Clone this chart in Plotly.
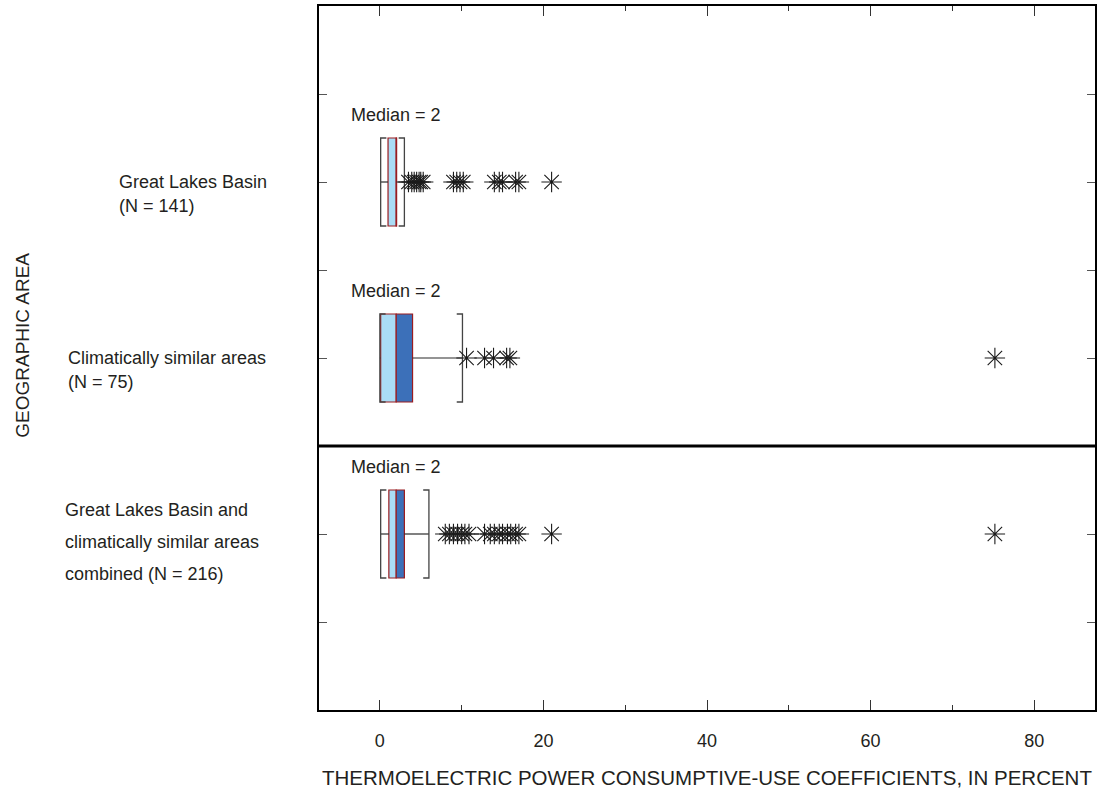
import plotly.graph_objects as go

# ---------------- data ----------------
categories = ["Great Lakes Basin", "Climatically similar areas", "Combined"]
cat_pos = [1, 2, 3]
label_lines = [
    ["Great Lakes Basin", "(N = 141)"],
    ["Climatically similar areas", "(N = 75)"],
    ["Great Lakes Basin and", "climatically similar areas", "combined (N = 216)"],
]
lower_whisker = [0.1, 0.0, 0.1]
q1 = [1.0, 0.1, 1.1]
median = [2.0, 2.0, 2.0]
q3 = [2.05, 4.0, 3.0]
upper_whisker = [3.0, 10.1, 6.0]
median_labels = ["Median = 2", "Median = 2", "Median = 2"]
outliers = [
    [3.5, 3.9, 4.2, 4.5, 4.8, 5.0, 5.3, 9.0, 9.4, 9.8, 10.2,
     14.0, 14.6, 15.0, 16.6, 17.0, 21.0],
    [10.6, 12.8, 13.9, 15.5, 15.9, 75.2],
    [8.0, 8.5, 9.0, 9.5, 10.0, 10.4, 10.9, 12.8, 13.5, 14.0, 14.6,
     15.0, 15.6, 16.0, 16.6, 17.0, 21.0, 75.2],
]
x_ticks = [0, 20, 40, 60, 80]
x_title = "THERMOELECTRIC POWER CONSUMPTIVE-USE COEFFICIENTS, IN PERCENT"
y_title = "GEOGRAPHIC AREA"

# ---------------- style ----------------
FONT = "Liberation Sans, Arial, sans-serif"
TXT = "#231f20"
LIGHT = "#aadcf5"
DARK = "#3c70b9"
RED = "#9a1c20"
HALF = 0.25      # half box height (category units)
SERIF = 0.7      # bracket serif length (x units)

fig = go.Figure()

# boxes: lower half (q1 -> median) and upper half (median -> q3)
fig.add_trace(go.Bar(
    orientation="h", y=cat_pos,
    x=[m - a for m, a in zip(median, q1)], base=q1, width=2 * HALF,
    marker=dict(color=LIGHT, line=dict(color=RED, width=1.2)),
    hoverinfo="skip", showlegend=False))
fig.add_trace(go.Bar(
    orientation="h", y=cat_pos,
    x=[b - m for m, b in zip(median, q3)], base=median, width=2 * HALF,
    marker=dict(color=DARK, line=dict(color=RED, width=1.2)),
    hoverinfo="skip", showlegend=False))

# whisker lines
wx, wy = [], []
for c, lo, a, b, hi in zip(cat_pos, lower_whisker, q1, q3, upper_whisker):
    wx += [lo, a, None, b, hi, None]
    wy += [c, c, None, c, c, None]
fig.add_trace(go.Scatter(x=wx, y=wy, mode="lines",
                         line=dict(color="#2a2a2a", width=1.2),
                         hoverinfo="skip", showlegend=False))

# bracket caps
bx, by = [], []
for c, lo, hi in zip(cat_pos, lower_whisker, upper_whisker):
    bx += [lo + SERIF, lo, lo, lo + SERIF, None,
           hi - SERIF, hi, hi, hi - SERIF, None]
    by += [c - HALF, c - HALF, c + HALF, c + HALF, None,
           c - HALF, c - HALF, c + HALF, c + HALF, None]
fig.add_trace(go.Scatter(x=bx, y=by, mode="lines",
                         line=dict(color="#444444", width=1.3),
                         hoverinfo="skip", showlegend=False))

# outliers
for c, vals in zip(cat_pos, outliers):
    fig.add_trace(go.Scatter(
        x=vals, y=[c] * len(vals), mode="markers",
        marker=dict(symbol="asterisk-open", size=17, color="#1a1a1a",
                    line=dict(color="#1a1a1a", width=1.1)),
        hoverinfo="skip", showlegend=False))

# separator line between individual and combined groups
fig.add_shape(type="line", xref="paper", x0=0, x1=1, yref="y",
              y0=2.5, y1=2.5, line=dict(color="black", width=3))

# median labels
for c, m, t in zip(cat_pos, median, median_labels):
    fig.add_annotation(x=m, y=c - 0.38, xref="x", yref="y", text=t,
                       showarrow=False, xanchor="center", yanchor="middle",
                       font=dict(family=FONT, size=18, color=TXT))

# category labels (left of plot)
L, R = 319, 1097
PW = R - L
label_x = [116, 65, 62]
line_gap = [24, 24, 32]
first_line_offset = [0, 0, -24]
for c, lines, lx, gap, off in zip(cat_pos, label_lines, label_x, line_gap, first_line_offset):
    for i, line in enumerate(lines):
        fig.add_annotation(x=(lx - L) / PW, xref="paper", y=c, yref="y",
                           yshift=-(off + i * gap), text=line,
                           showarrow=False, xanchor="left", yanchor="middle",
                           align="left",
                           font=dict(family=FONT, size=18, color=TXT))

# axis titles
fig.add_annotation(x=(21 - L) / PW, xref="paper", y=(710 - 345) / 704, yref="paper",
                   text=y_title, textangle=-90, showarrow=False,
                   xanchor="center", yanchor="middle",
                   font=dict(family=FONT, size=19, color=TXT))
fig.add_annotation(x=(708 - L) / PW, xref="paper", y=(710 - 777) / 704, yref="paper",
                   text=x_title, showarrow=False,
                   xanchor="center", yanchor="middle",
                   font=dict(family=FONT, size=20.5, color=TXT))

fig.update_layout(
    width=1099, height=799,
    margin=dict(l=L, r=1099 - R, t=6, b=89, pad=0),
    paper_bgcolor="white", plot_bgcolor="white",
    barmode="overlay", showlegend=False,
    font=dict(family=FONT, size=18, color=TXT),
    xaxis=dict(range=[-7.44, 87.44], autorange=False,
               tickvals=x_ticks, ticks="inside", ticklen=10, tickwidth=1.2,
               tickcolor="#333333",
               minor=dict(ticks="inside", ticklen=5, dtick=10, tick0=0,
                          tickcolor="#333333", tickwidth=1.2, showgrid=False),
               showgrid=False, zeroline=False,
               showline=True, linecolor="black", linewidth=1.5, mirror="ticks",
               ticklabelstandoff=14,
               tickfont=dict(family=FONT, size=18, color=TXT)),
    yaxis=dict(range=[4, 0], autorange=False,
               tickvals=[0.5, 1, 1.5, 2, 2.5, 3, 3.5],
               ticks="inside", ticklen=8, tickwidth=1.2, tickcolor="#555555",
               showticklabels=False, showgrid=False, zeroline=False,
               showline=True, linecolor="black", linewidth=1.5, mirror="ticks"),
)

fig.write_html("out.html")
